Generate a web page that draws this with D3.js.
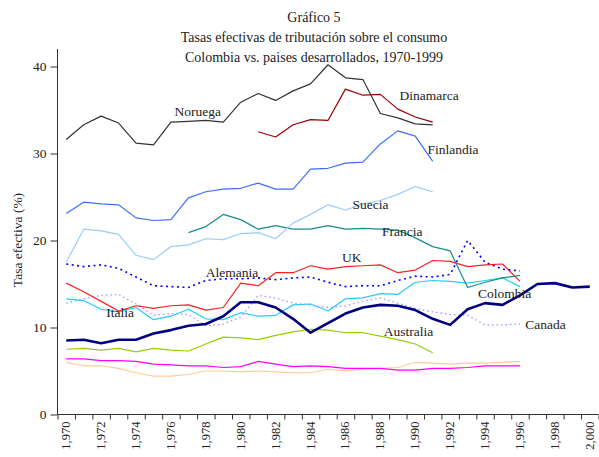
<!DOCTYPE html>
<html>
<head>
<meta charset="utf-8">
<script src="https://cdn.jsdelivr.net/npm/d3@7"></script>
<style>
  body { margin: 0; background: #fff; }
  svg { display: block; }
  svg text { font-family: "Liberation Serif", "Times New Roman", serif !important; fill: #222; }
</style>
</head>
<body>
<svg id="chart" width="599" height="457"></svg>
<script>
// ---- Data ----
const years = d3.range(1970, 2001);
const xTickLabels = d3.range(1970, 2001, 2);
const yTicks = [0, 10, 20, 30, 40];
const titleLines = ["Gráfico 5", "Tasas efectivas de tributación sobre el consumo", "Colombia vs. paises desarrollados, 1970-1999"];
const yAxisTitle = "Tasa efectiva (%)";

const noruega   = [31.6, 33.3, 34.3, 33.5, 31.2, 31.0, 33.6, 33.7, 33.8, 33.6, 35.9, 36.9, 36.1, 37.2, 38.0, 40.2, 38.7, 38.5, 34.6, 34.1, 33.4, 33.3];
const dinamarca = [32.5, 31.9, 33.3, 33.9, 33.8, 37.4, 36.7, 36.8, 35.1, 34.2, 33.6];
const finlandia = [23.1, 24.4, 24.2, 24.1, 22.6, 22.3, 22.4, 24.9, 25.6, 25.9, 26.0, 26.6, 25.9, 25.9, 28.2, 28.3, 28.9, 29.0, 31.1, 32.6, 32.0, 29.1];
const suecia    = [17.5, 21.3, 21.1, 20.7, 18.3, 17.8, 19.3, 19.5, 20.2, 20.1, 20.8, 20.9, 20.2, 22.0, 23.0, 24.1, 23.5, 24.2, 24.6, 25.3, 26.2, 25.6];
const francia   = [20.9, 21.6, 23.0, 22.4, 21.3, 21.7, 21.3, 21.3, 21.7, 21.3, 21.4, 21.3, 21.2, 20.3, 19.3, 18.8, 14.6, 15.2, 15.7, 16.0];
const alemania  = [17.3, 17.0, 17.2, 16.8, 15.8, 14.8, 14.7, 14.6, 15.4, 15.6, 15.6, 15.7, 15.5, 15.7, 15.8, 15.2, 14.7, 14.8, 14.8, 15.4, 15.9, 15.8, 16.1, 20.0, 17.5, 16.7, 16.5];
const uk        = [15.1, 14.1, 13.0, 11.9, 12.5, 12.2, 12.5, 12.6, 12.0, 12.3, 15.1, 14.8, 16.3, 16.3, 17.1, 16.7, 17.0, 17.1, 17.2, 16.3, 16.6, 17.7, 17.6, 17.0, 17.2, 17.3, 15.3];
const italia    = [13.3, 13.1, 12.1, 11.8, 12.3, 10.9, 11.3, 12.1, 11.0, 10.9, 11.7, 11.3, 11.4, 12.6, 12.7, 11.9, 13.3, 13.4, 13.9, 13.8, 15.2, 15.4, 15.3, 15.1, 15.4, 15.7, 14.7];
const canada    = [12.8, 13.3, 13.7, 13.8, 12.7, 11.4, 11.6, 11.5, 10.2, 10.4, 11.2, 13.7, 13.4, 12.8, 12.6, 12.3, 12.5, 13.0, 13.4, 12.8, 12.2, 11.8, 11.5, 11.4, 10.3, 10.3, 10.4];
const colombia  = [8.5, 8.6, 8.2, 8.6, 8.6, 9.3, 9.7, 10.2, 10.4, 11.3, 12.9, 12.9, 12.3, 11.0, 9.4, 10.5, 11.6, 12.3, 12.6, 12.5, 12.0, 11.0, 10.3, 12.1, 12.8, 12.6, 13.7, 15.0, 15.1, 14.6, 14.7];
const australia = [7.5, 7.6, 7.4, 7.6, 7.2, 7.6, 7.4, 7.3, 8.1, 8.9, 8.8, 8.6, 9.1, 9.5, 9.8, 9.7, 9.4, 9.4, 9.0, 8.6, 8.1, 7.1];
const magenta   = [6.4, 6.4, 6.2, 6.2, 6.1, 5.8, 5.7, 5.6, 5.6, 5.4, 5.5, 6.1, 5.8, 5.5, 5.6, 5.5, 5.3, 5.3, 5.3, 5.1, 5.1, 5.3, 5.3, 5.4, 5.6, 5.6, 5.6];
const peach     = [6.0, 5.6, 5.6, 5.3, 4.8, 4.4, 4.4, 4.6, 5.0, 5.0, 4.9, 5.0, 4.9, 4.8, 4.8, 5.2, 5.0, 5.2, 5.3, 5.4, 6.0, 5.9, 5.8, 5.9, 5.9, 6.0, 6.1];

const seriesNames = ["Peach", "Magenta", "Australia", "Canada", "Italia", "UK", "Alemania", "Francia", "Suecia", "Finlandia", "Dinamarca", "Noruega", "Colombia"];
const seriesStart = [1970, 1970, 1970, 1970, 1970, 1970, 1970, 1977, 1970, 1970, 1981, 1970, 1970];
const seriesValues = [peach, magenta, australia, canada, italia, uk, alemania, francia, suecia, finlandia, dinamarca, noruega, colombia];
const seriesColors = ["#ffcc99", "#ff00ff", "#99cc00", "#b08cff", "#22ccff", "#ff2020", "#0000ff", "#1a8c8c", "#99ccff", "#3d6eff", "#990000", "#333333", "#000080"];
const seriesWidths = [1.2, 1.2, 1.2, 1.3, 1.2, 1.2, 1.6, 1.2, 1.2, 1.2, 1.2, 1.2, 2.6];
const seriesDash = [null, null, null, "1.5,3", null, null, "2,3.5", null, null, null, null, null, null];

// label anchor positions (year, value) for text annotations
const labelNames  = ["Noruega", "Dinamarca", "Finlandia", "Suecia", "Francia", "UK", "Alemania", "Italia", "Colombia", "Canada", "Australia"];
const labelYears  = [1976.2, 1989.1, 1990.7, 1986.4, 1988.1, 1985.8, 1978.0, 1972.3, 1993.6, 1996.3, 1988.2];
const labelValues = [34.3, 36.2, 30.0, 23.6, 20.5, 17.5, 15.8, 11.2, 13.4, 9.8, 9.0];

// ---- Chart ----
const FONT = '"Liberation Serif", "Times New Roman", serif';
const svg = d3.select("#chart");
const x = d3.scaleLinear().domain([1969.5, 2000.5]).range([57.5, 598.5]);
const y = d3.scaleLinear().domain([0, 40]).range([414.5, 66.5]);

// Title
svg.append("g").selectAll("text").data(titleLines).join("text")
  .attr("x", 314).attr("y", (d, i) => 22 + i * 20)
  .attr("text-anchor", "middle").attr("font-size", 14).style("font-family", FONT).text(d => d);

// Y axis
const yAxis = svg.append("g").attr("transform", "translate(57.5,0)")
  .call(d3.axisLeft(y).tickValues(yTicks).tickSize(7).tickPadding(4).tickFormat(d3.format("d")));
yAxis.attr("font-family", FONT);
yAxis.select(".domain").remove();
yAxis.append("line").attr("x1", 0).attr("x2", 0).attr("y1", y(0)).attr("y2", 49).attr("stroke", "#333");
yAxis.selectAll(".tick line").attr("stroke", "#333");
yAxis.selectAll(".tick text").attr("font-size", 13.5).style("font-family", FONT).attr("fill", "#222");

// X axis ticks at category boundaries
const xBound = d3.range(1969.5, 2001, 1);
const xAxis = svg.append("g").attr("transform", `translate(0,${y(0)})`)
  .call(d3.axisBottom(x).tickValues(xBound).tickSize(5).tickFormat(""));
xAxis.select(".domain").attr("stroke", "#333").attr("d", `M${x(1969.5)},0H${x(2000.5)}`);
xAxis.selectAll(".tick line").attr("stroke", "#333");

// X labels
const fmt = d3.format(",");
svg.append("g").selectAll("text").data(xTickLabels).join("text")
  .attr("transform", d => `translate(${x(d) + 4},${y(0) + 7}) rotate(-90)`)
  .attr("text-anchor", "end").attr("font-size", 12.5).style("font-family", FONT).text(d => fmt(d));

// Y axis title
svg.append("text").attr("transform", "translate(22,240) rotate(-90)")
  .attr("text-anchor", "middle").attr("font-size", 13.5).style("font-family", FONT).text(yAxisTitle);

// Lines
const line = d3.line().x(d => x(d[0])).y(d => y(d[1]));
seriesValues.forEach((vals, i) => {
  const pts = vals.map((v, j) => [seriesStart[i] + j, v]);
  svg.append("path").datum(pts)
    .attr("fill", "none")
    .attr("stroke", seriesColors[i])
    .attr("stroke-width", seriesWidths[i])
    .attr("stroke-dasharray", seriesDash[i])
    .attr("stroke-linejoin", "round")
    .attr("d", line);
});

// Labels
svg.append("g").selectAll("text").data(labelNames).join("text")
  .attr("x", (d, i) => x(labelYears[i]))
  .attr("y", (d, i) => y(labelValues[i]))
  .attr("font-size", 13.5).style("font-family", FONT).text(d => d);
</script>
</body>
</html>
